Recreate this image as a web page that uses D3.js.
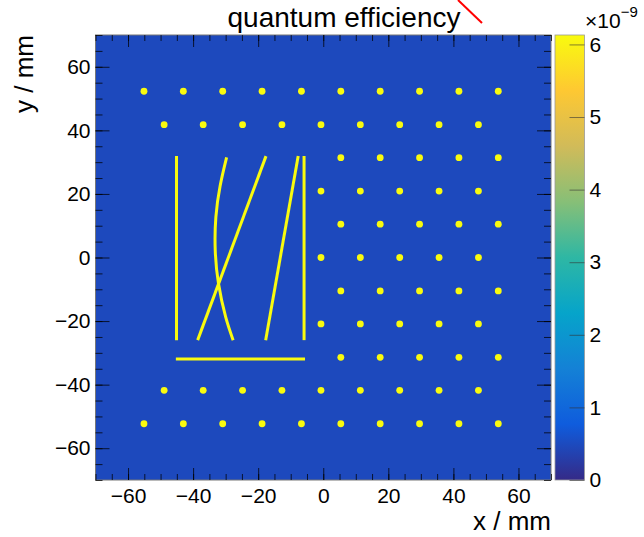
<!DOCTYPE html>
<html>
<head>
<meta charset="utf-8">
<script src="https://cdn.jsdelivr.net/npm/d3@7"></script>
<style>
  body { margin: 0; background: #fff; }
  svg { display: block; font-family: "Liberation Sans", Arial, sans-serif; }
</style>
</head>
<body>
<div id="vis"></div>
<script>
// ---- data (mm, and the colour-axis values) ----
const xTicks = [-60, -40, -20, 0, 20, 40, 60];
const yTicks = [-60, -40, -20, 0, 20, 40, 60];
const zTicks = [0, 1, 2, 3, 4, 5, 6];
const zMax = 6.13;          // x 1e-9
const bgLevel = 0.48;       // value of the empty area
const hitLevel = 6.13;      // value of dots and lines

// dot columns
const colsA = [-55.1, -43.0, -30.9, -18.8, -6.7, 5.4, 17.5, 29.6, 41.7, 53.8];
const colsB = [-48.9, -36.9, -24.8, -12.7, -0.7, 11.4, 23.5, 35.6, 47.7];
const colsRightA = [5.4, 17.5, 29.6, 41.7, 53.8];
const colsRightB = [-0.7, 11.4, 23.5, 35.6, 47.7];
// dot rows and which column set each one uses
const rowY = [52.3, 41.8, 31.4, 20.9, 10.5, 0, -10.5, -20.9, -31.4, -41.8, -52.3];
const rowCols = [colsA, colsB, colsRightA, colsRightB, colsRightA, colsRightB,
                 colsRightA, colsRightB, colsRightA, colsB, colsA];
const dotRadius = 1.05; // mm

// strip lines (mm)
const strips = [
  [[-45.1, 31.9], [-45.1, -26.0]],
  [[-5.9, 31.9], [-5.9, -26.0]],
  [[-7.7, 31.9], [-17.7, -26.0]],
  [[-17.6, 31.9], [-38.6, -26.0]],
  [[-45.3, -31.9], [-5.6, -31.9]]
];
const arcStrip = [[-29.7, 31.5], [-31.7, 22.5], [-33.0, 12.8], [-33.2, 2.3],
                  [-32.2, -8.2], [-30.0, -18.7], [-27.7, -26.0]];

// kBird palette
const birdStops = [0, 0.125, 0.25, 0.375, 0.5, 0.625, 0.75, 0.875, 1];
const birdColors = ["rgb(53,42,135)", "rgb(15,92,221)", "rgb(20,129,214)", "rgb(6,164,202)",
                    "rgb(46,183,164)", "rgb(135,191,119)", "rgb(209,187,89)",
                    "rgb(254,200,50)", "rgb(249,251,14)"];

// ---- layout ----
const WIDTH = 644, HEIGHT = 537;
const frame = { left: 95.5, right: 551, top: 35, bottom: 480 };
const bar = { left: 555, right: 584.5 };

const SVG = d3.select("#vis").append("svg").attr("width", WIDTH).attr("height", HEIGHT);

const x = d3.scaleLinear().domain([-70, 70]).range([frame.left, frame.right]);
const y = d3.scaleLinear().domain([-70, 70]).range([frame.bottom, frame.top]);
const z = d3.scaleLinear().domain([0, zMax]).range([frame.bottom, frame.top]);
const color = d3.scaleLinear().domain(birdStops.map(s => s * zMax)).range(birdColors);

// clip
SVG.append("clipPath").attr("id", "clip")
  .append("rect")
  .attr("x", frame.left).attr("y", frame.top)
  .attr("width", frame.right - frame.left).attr("height", frame.bottom - frame.top);

// background
SVG.append("rect")
  .attr("x", frame.left).attr("y", frame.top)
  .attr("width", frame.right - frame.left).attr("height", frame.bottom - frame.top)
  .attr("fill", color(bgLevel));

const plot = SVG.append("g").attr("clip-path", "url(#clip)");

// strips
const line = d3.line().x(d => x(d[0])).y(d => y(d[1]));
plot.selectAll("path.strip")
  .data(strips)
  .join("path")
  .attr("class", "strip")
  .attr("d", line)
  .attr("fill", "none")
  .attr("stroke", color(hitLevel))
  .attr("stroke-width", 3);

plot.append("path")
  .datum(arcStrip)
  .attr("d", d3.line().x(d => x(d[0])).y(d => y(d[1])).curve(d3.curveNatural))
  .attr("fill", "none")
  .attr("stroke", color(hitLevel))
  .attr("stroke-width", 3);

// dots
const dots = rowY.flatMap((yy, i) => rowCols[i].map(xx => ({ x: xx, y: yy })));
plot.selectAll("circle")
  .data(dots)
  .join("circle")
  .attr("cx", d => x(d.x))
  .attr("cy", d => y(d.y))
  .attr("r", x(dotRadius) - x(0))
  .attr("fill", color(hitLevel));

// frame border
SVG.append("rect")
  .attr("x", frame.left).attr("y", frame.top)
  .attr("width", frame.right - frame.left).attr("height", frame.bottom - frame.top)
  .attr("fill", "none").attr("stroke", "#777").attr("stroke-width", 1);

// ---- axes ----
const minorX = d3.range(-70, 71, 5);
const minorY = d3.range(-70, 71, 5);

function styleTicks(g) {
  g.select(".domain").remove();
  g.selectAll("line").attr("stroke", "#000").attr("stroke-opacity", 0.75);
}

// x bottom
SVG.append("g").attr("transform", `translate(0,${frame.bottom})`)
  .call(d3.axisBottom(x).tickValues(minorX).tickSize(-6).tickFormat(""))
  .call(styleTicks);
const xAx = SVG.append("g").attr("transform", `translate(0,${frame.bottom})`)
  .call(d3.axisBottom(x).tickValues(xTicks).tickSize(-12).tickPadding(8))
  .call(styleTicks);
xAx.selectAll("text").attr("font-size", 21).attr("fill", "#000").attr("font-family", null);

// x top
SVG.append("g").attr("transform", `translate(0,${frame.top})`)
  .call(d3.axisTop(x).tickValues(minorX).tickSize(-6).tickFormat(""))
  .call(styleTicks);
SVG.append("g").attr("transform", `translate(0,${frame.top})`)
  .call(d3.axisTop(x).tickValues(xTicks).tickSize(-12).tickFormat(""))
  .call(styleTicks);

// y left
SVG.append("g").attr("transform", `translate(${frame.left},0)`)
  .call(d3.axisLeft(y).tickValues(minorY).tickSize(-7).tickFormat(""))
  .call(styleTicks);
const yAx = SVG.append("g").attr("transform", `translate(${frame.left},0)`)
  .call(d3.axisLeft(y).tickValues(yTicks).tickSize(-14).tickPadding(5))
  .call(styleTicks);
yAx.selectAll("text").attr("font-size", 21).attr("fill", "#000").attr("font-family", null);

// y right
SVG.append("g").attr("transform", `translate(${frame.right},0)`)
  .call(d3.axisRight(y).tickValues(minorY).tickSize(-7).tickFormat(""))
  .call(styleTicks);
SVG.append("g").attr("transform", `translate(${frame.right},0)`)
  .call(d3.axisRight(y).tickValues(yTicks).tickSize(-14).tickFormat(""))
  .call(styleTicks);

// ---- colour bar ----
const grad = SVG.append("defs").append("linearGradient")
  .attr("id", "bird").attr("x1", 0).attr("y1", 1).attr("x2", 0).attr("y2", 0);
grad.selectAll("stop")
  .data(birdStops)
  .join("stop")
  .attr("offset", d => d)
  .attr("stop-color", (d, i) => birdColors[i]);

SVG.append("rect")
  .attr("x", bar.left).attr("y", frame.top)
  .attr("width", bar.right - bar.left).attr("height", frame.bottom - frame.top)
  .attr("fill", "url(#bird)")
  .attr("stroke", "#999").attr("stroke-width", 0.8);

const zAx = SVG.append("g").attr("transform", `translate(${bar.right},0)`)
  .call(d3.axisRight(z).tickValues(zTicks).tickSize(-15).tickPadding(5).tickFormat(d3.format("d")))
  .call(g => g.select(".domain").remove());
zAx.selectAll("line").attr("stroke", "#333").attr("stroke-opacity", 0.6);
zAx.selectAll("text").attr("font-size", 21).attr("fill", "#000").attr("font-family", null);

// exponent label
const expo = SVG.append("text").attr("x", 585).attr("y", 28).attr("font-size", 21).attr("fill", "#000");
expo.append("tspan").text("×10");
expo.append("tspan").attr("font-size", 15).attr("dy", -11).text("−9");

// ---- titles ----
SVG.append("text")
  .attr("x", 344).attr("y", 27)
  .attr("text-anchor", "middle")
  .attr("font-size", 28)
  .text("quantum efficiency");

SVG.append("line")
  .attr("x1", 458).attr("y1", 0).attr("x2", 482).attr("y2", 23)
  .attr("stroke", "#f00").attr("stroke-width", 2);

SVG.append("text")
  .attr("x", frame.right).attr("y", 530)
  .attr("text-anchor", "end")
  .attr("font-size", 26)
  .text("x / mm");

SVG.append("text")
  .attr("transform", `translate(33,${frame.top}) rotate(-90)`)
  .attr("text-anchor", "end")
  .attr("font-size", 26)
  .text("y / mm");
</script>
</body>
</html>
